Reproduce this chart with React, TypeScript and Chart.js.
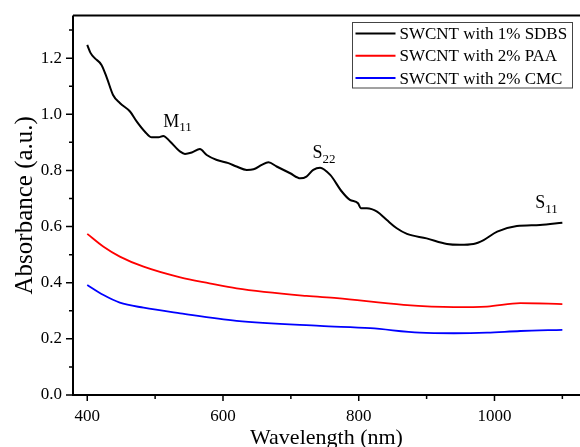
import React, { useEffect, useRef } from "react";
import { Chart, registerables } from "chart.js";

Chart.register(...registerables);

// ---- data ----
const sdbsWavelength = [400, 405, 411, 421, 429, 438, 448, 463, 473, 485, 495, 505, 512, 522, 537, 544, 554, 566, 576, 591, 608, 620, 635, 645, 657, 667, 679, 699, 714, 723, 733, 743, 758, 775, 787, 799, 803, 812, 827, 841, 856, 871, 900, 930, 949, 969, 984, 1004, 1033, 1067, 1100];
const sdbsAbs = [1.247, 1.218, 1.2, 1.176, 1.129, 1.069, 1.04, 1.01, 0.974, 0.938, 0.918, 0.918, 0.923, 0.903, 0.867, 0.859, 0.864, 0.876, 0.855, 0.837, 0.826, 0.814, 0.802, 0.804, 0.82, 0.829, 0.814, 0.79, 0.772, 0.778, 0.802, 0.81, 0.784, 0.725, 0.695, 0.683, 0.665, 0.665, 0.653, 0.624, 0.594, 0.574, 0.558, 0.538, 0.535, 0.538, 0.552, 0.582, 0.602, 0.606, 0.614];

const paaWavelength = [400, 424, 448, 483, 537, 580, 620, 723, 768, 866, 940, 989, 1038, 1100];
const paaAbs = [0.574, 0.528, 0.493, 0.457, 0.419, 0.398, 0.38, 0.353, 0.345, 0.321, 0.313, 0.315, 0.327, 0.324];

const cmcWavelength = [400, 424, 448, 483, 537, 620, 743, 817, 890, 940, 989, 1038, 1100];
const cmcAbs = [0.392, 0.356, 0.329, 0.311, 0.291, 0.264, 0.246, 0.238, 0.222, 0.22, 0.222, 0.228, 0.232];

const seriesLabels = ["SWCNT with 1% SDBS", "SWCNT with 2% PAA", "SWCNT with 2% CMC"];
const seriesColors = ["#000000", "#ff0000", "#0000ff"];

const xTickValues = [400, 500, 600, 700, 800, 900, 1000, 1100];
const xTickLabels = ["400", "", "600", "", "800", "", "1000", ""];
const yTickValues = [0, 0.1, 0.2, 0.3, 0.4, 0.5, 0.6, 0.7, 0.8, 0.9, 1.0, 1.1, 1.2, 1.3];
const yTickLabels = ["0.0", "", "0.2", "", "0.4", "", "0.6", "", "0.8", "", "1.0", "", "1.2", ""];

const peakMain = ["M", "S", "S"];
const peakSub = ["11", "22", "11"];
const peakX = [512, 732, 1060];
const peakY = [0.956, 0.844, 0.665];

const SERIF = "'Liberation Serif', 'Times New Roman', serif";

const toPoints = (xs: number[], ys: number[]) => xs.map((x, i) => ({ x, y: ys[i] }));

const framePlugin = {
  id: "frame",
  afterDraw(chart: any) {
    const { ctx, chartArea } = chart;
    const xs = chart.scales.x;
    const ys = chart.scales.y;
    const { left, right, top, bottom } = chartArea;
    ctx.save();
    ctx.strokeStyle = "#000";
    ctx.lineWidth = 2;
    ctx.beginPath();
    ctx.moveTo(left, top);
    ctx.lineTo(right + 2, top);
    ctx.moveTo(left, top);
    ctx.lineTo(left, bottom);
    ctx.lineTo(right + 2, bottom);
    ctx.stroke();
    ctx.lineWidth = 1.5;
    ctx.beginPath();
    xTickValues.forEach((v, i) => {
      const px = xs.getPixelForValue(v);
      const len = xTickLabels[i] ? 6 : 4;
      ctx.moveTo(px, bottom);
      ctx.lineTo(px, bottom + len);
    });
    yTickValues.forEach((v, i) => {
      const py = ys.getPixelForValue(v);
      const len = yTickLabels[i] ? 7 : 4;
      ctx.moveTo(left, py);
      ctx.lineTo(left - len, py);
    });
    ctx.stroke();

    // peak annotations
    ctx.fillStyle = "#000";
    ctx.textBaseline = "alphabetic";
    ctx.textAlign = "left";
    peakMain.forEach((m, i) => {
      const px = xs.getPixelForValue(peakX[i]);
      const py = ys.getPixelForValue(peakY[i]);
      ctx.font = `18px ${SERIF}`;
      ctx.fillText(m, px, py);
      const w = ctx.measureText(m).width;
      ctx.font = `13px ${SERIF}`;
      ctx.fillText(peakSub[i], px + w, py + 4.5);
    });

    // legend box
    const bx = 352.5, by = 22.5, bw = 220, bh = 65.5;
    ctx.fillStyle = "#fff";
    ctx.fillRect(bx, by, bw, bh);
    ctx.strokeStyle = "#444";
    ctx.lineWidth = 1;
    ctx.strokeRect(bx, by, bw, bh);
    ctx.font = `17px ${SERIF}`;
    ctx.textBaseline = "middle";
    chart.data.datasets.forEach((ds: any, i: number) => {
      const cy = by + 11 + i * 22.3;
      ctx.strokeStyle = ds.borderColor;
      ctx.lineWidth = 2;
      ctx.beginPath();
      ctx.moveTo(bx + 3, cy);
      ctx.lineTo(bx + 43, cy);
      ctx.stroke();
      ctx.fillStyle = "#000";
      ctx.fillText(ds.label, bx + 47, cy + 1);
    });
    ctx.restore();
  },
};

export default function App() {
  const ref = useRef<HTMLCanvasElement | null>(null);
  useEffect(() => {
    if (!ref.current) return;
    const chart = new Chart(ref.current, {
      type: "line",
      data: {
        datasets: [
          { label: seriesLabels[0], data: toPoints(sdbsWavelength, sdbsAbs), borderColor: seriesColors[0], borderWidth: 2 },
          { label: seriesLabels[1], data: toPoints(paaWavelength, paaAbs), borderColor: seriesColors[1], borderWidth: 1.8 },
          { label: seriesLabels[2], data: toPoints(cmcWavelength, cmcAbs), borderColor: seriesColors[2], borderWidth: 1.8 },
        ],
      },
      options: {
        animation: false,
        responsive: false,
        elements: { point: { radius: 0 }, line: { cubicInterpolationMode: "monotone" } } as any,
        layout: { padding: { left: 0, right: 0, top: 15.5, bottom: 0 } },
        plugins: { legend: { display: false }, tooltip: { enabled: false } },
        scales: {
          x: {
            type: "linear",
            min: 379,
            max: 1126,
            grid: { display: false, drawTicks: false },
            border: { display: false },
            afterFit: (s: any) => { s.height = 52; s.paddingLeft = 0; s.paddingRight = 0; },
            afterBuildTicks: (s: any) => { s.ticks = xTickValues.map((v) => ({ value: v })); },
            ticks: {
              autoSkip: false,
              maxRotation: 0,
              padding: 11.5,
              color: "#000",
              font: { family: SERIF, size: 17 },
              callback: (v: any) => xTickLabels[xTickValues.indexOf(Number(v))] ?? "",
            },
            title: { display: true, text: "Wavelength (nm)", color: "#000", font: { family: SERIF, size: 22 }, padding: { top: 0, bottom: -4.5 } },
          },
          y: {
            type: "linear",
            min: 0,
            max: 1.352,
            grid: { display: false, drawTicks: false },
            border: { display: false },
            afterFit: (s: any) => { s.width = 73; s.paddingTop = 0; s.paddingBottom = 0; },
            afterBuildTicks: (s: any) => { s.ticks = yTickValues.map((v) => ({ value: v })); },
            ticks: {
              autoSkip: false,
              padding: 11,
              color: "#000",
              font: { family: SERIF, size: 17 },
              callback: (v: any) => {
                const idx = yTickValues.findIndex((t) => Math.abs(t - Number(v)) < 1e-6);
                return idx >= 0 ? yTickLabels[idx] : "";
              },
            },
            title: { display: true, text: "Absorbance (a.u.)", color: "#000", font: { family: SERIF, size: 25 }, padding: { top: 10, bottom: 0 } },
          },
        },
      } as any,
      plugins: [framePlugin],
    });
    return () => chart.destroy();
  }, []);
  return (
    <div style={{ position: "absolute", left: 0, top: 0, width: 580, height: 447, background: "#fff" }}>
      <canvas ref={ref} width={580} height={447} style={{ display: "block" }} />
    </div>
  );
}
